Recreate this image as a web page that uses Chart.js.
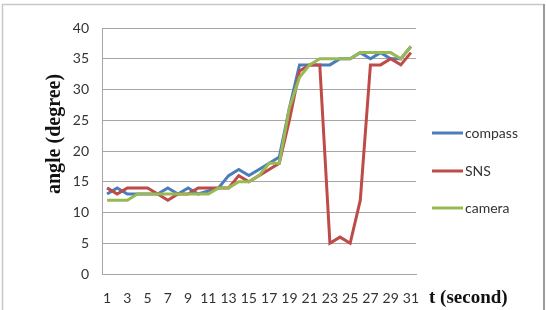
<!DOCTYPE html>
<html>
<head>
<meta charset="utf-8">
<script src="https://cdn.jsdelivr.net/npm/chart.js@4"></script>
<style>
html,body{margin:0;padding:0;background:#fff;}
#wrap{position:relative;width:546px;height:310px;}
</style>
</head>
<body>
<div id="wrap"><canvas id="c" width="546" height="310"></canvas></div>
<script>
const categories = ["1","2","3","4","5","6","7","8","9","10","11","12","13","14","15","16","17","18","19","20","21","22","23","24","25","26","27","28","29","30","31"];
const compass = [13,14,13,13,13,13,14,13,14,13,13.5,14,16,17,16,17,18,19,27,34,34,34,34,35,35,36,35,36,35,35,37];
const sns     = [14,13,14,14,14,13,12,13,13,14,14,14,14,16,15,16,17,18,25,33,34,34,5,6,5,12,34,34,35,34,36];
const camera  = [12,12,12,13,13,13,13,13,13,13,13,14,14,15,15,16,18,18,27,32,34,35,35,35,35,36,36,36,36,35,37];
const yTicks = [0,5,10,15,20,25,30,35,40];
const seriesNames = ["compass","SNS","camera"];
const seriesColors = ["#4a7ebb","#be4b48","#98b954"];
const yTitle = "angle (degree)";
const xTitle = "t (second)";

const tickFont = {family: "Lato, 'Liberation Sans', sans-serif", size: 14};

const decor = {
  id: 'decor',
  beforeDraw(chart) {
    const ctx = chart.ctx;
    ctx.save();
    ctx.strokeStyle = '#c8c8c8';
    ctx.lineWidth = 1.5;
    ctx.beginPath();
    ctx.moveTo(2.5, 312);
    ctx.lineTo(2.5, 4.5);
    ctx.lineTo(543.5, 4.5);
    ctx.stroke();
    ctx.strokeStyle = '#9a9a9a';
    ctx.lineWidth = 2;
    ctx.beginPath();
    ctx.moveTo(544, 4);
    ctx.lineTo(544, 312);
    ctx.stroke();
    ctx.restore();
  },
  afterDraw(chart) {
    const ctx = chart.ctx;
    ctx.save();
    ctx.fillStyle = '#111';
    ctx.font = "bold 20px 'Liberation Serif', 'DejaVu Serif', serif";
    ctx.textAlign = 'center';
    ctx.textBaseline = 'middle';
    ctx.translate(55, 134);
    ctx.rotate(-Math.PI/2);
    ctx.fillText(yTitle, 0, 0);
    ctx.restore();
    ctx.save();
    ctx.fillStyle = '#111';
    ctx.font = "bold 19px 'Liberation Serif', 'DejaVu Serif', serif";
    ctx.textAlign = 'left';
    ctx.textBaseline = 'middle';
    ctx.fillText(xTitle, 429, 298);
    const ys = [133, 171, 208];
    ctx.font = "14px Lato, 'Liberation Sans', sans-serif";
    chart.data.datasets.forEach((ds, i) => {
      const y = ys[i];
      ctx.strokeStyle = ds.borderColor;
      ctx.lineWidth = 3;
      ctx.beginPath();
      ctx.moveTo(432, y);
      ctx.lineTo(463, y);
      ctx.stroke();
      ctx.fillStyle = '#333';
      ctx.fillText(ds.label, 465, y);
    });
    ctx.restore();
  }
};

const datasets = [compass, sns, camera].map((d, i) => ({
  label: seriesNames[i],
  data: d,
  borderColor: seriesColors[i],
  backgroundColor: seriesColors[i],
  borderWidth: 3,
  pointRadius: 0,
  tension: 0,
  fill: false,
  order: 2 - i
}));

new Chart(document.getElementById('c'), {
  type: 'line',
  data: { labels: categories, datasets },
  plugins: [decor],
  options: {
    responsive: false,
    animation: false,
    devicePixelRatio: 1,
    layout: { padding: { left: 0, right: 130, top: 28, bottom: 0 } },
    plugins: { legend: { display: false }, tooltip: { enabled: false } },
    scales: {
      x: {
        type: 'category',
        offset: true,
        grid: { display: false, drawTicks: false },
        border: { display: true, color: '#a6a6a6', width: 1 },
        ticks: {
          autoSkip: false, maxRotation: 0, minRotation: 0, padding: 16,
          color: '#333', font: tickFont,
          callback: function(v, i) { return i % 2 === 0 ? this.getLabelForValue(v) : ''; }
        },
        afterFit(s) { s.height = 36; }
      },
      y: {
        min: 0, max: 40,
        afterBuildTicks(s) { s.ticks = yTicks.map(v => ({ value: v })); },
        grid: { color: '#a6a6a6', lineWidth: 1, drawTicks: false },
        border: { display: true, color: '#a6a6a6', width: 1 },
        ticks: { padding: 13, color: '#333', font: tickFont },
        afterFit(s) { s.width = 102; }
      }
    }
  }
});
</script>
</body>
</html>
